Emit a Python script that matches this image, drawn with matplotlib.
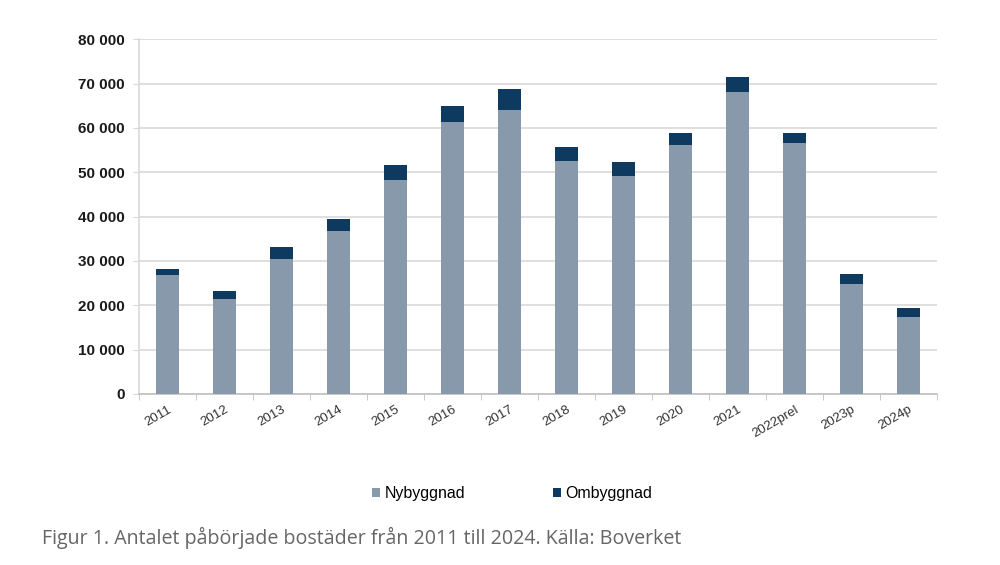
import numpy as np
import matplotlib.pyplot as plt
from matplotlib.ticker import FuncFormatter, FixedLocator

# data
years = ["2011", "2012", "2013", "2014", "2015", "2016", "2017", "2018", "2019",
         "2020", "2021", "2022prel", "2023p", "2024p"]
nybyggnad = [26760, 21350, 30370, 36750, 48180, 61260, 64040, 52610, 49150,
             56140, 68160, 56670, 24800, 17440]
totalt = [28120, 23300, 33210, 39460, 51560, 65000, 68700, 55620, 52380,
          58920, 71400, 58920, 26990, 19320]
ombyggnad = [t - n for t, n in zip(totalt, nybyggnad)]

col_ny = "#8799ab"
col_om = "#0d3a5e"

plt.rcParams['font.family'] = ['Liberation Sans', 'DejaVu Sans']

fig = plt.figure(figsize=(10, 5.65), dpi=100)
ax = fig.add_axes([0.139, 0.3027, 0.798, 0.6277])

x = np.arange(len(years))
ax.bar(x, nybyggnad, width=0.39, color=col_ny, label="Nybyggnad", zorder=3)
ax.bar(x, ombyggnad, width=0.39, bottom=nybyggnad, color=col_om,
       label="Ombyggnad", zorder=3)

ax.set_xlim(-0.5, len(years) - 0.5)
ax.set_ylim(0, 80000)
ax.set_yticks(np.arange(0, 80001, 10000))
ax.yaxis.set_major_formatter(FuncFormatter(lambda v, p: f"{int(v):,}".replace(",", " ")))
ax.grid(axis="y", color="#d9d9d9", linewidth=1.2, zorder=0)

for s in ["top", "right"]:
    ax.spines[s].set_visible(False)
ax.spines["left"].set_color("#d9d9d9")
ax.spines["bottom"].set_color("#bfbfbf")
ax.spines["left"].set_linewidth(1.2)
ax.spines["bottom"].set_linewidth(1.2)

ax.tick_params(axis="y", length=4, color="#d9d9d9", labelsize=11,
               labelcolor="#1a1a1a", pad=6)
for t in ax.get_yticklabels():
    t.set_fontweight("bold")

# category ticks between bars, labels at bar centres
ax.set_xticks(x)
ax.set_xticklabels(years, rotation=30, ha="right", va="top",
                   rotation_mode="anchor", fontsize=9.5, color="#333333")
ax.tick_params(axis="x", length=0, pad=7)
ax.xaxis.set_minor_locator(FixedLocator(np.arange(-0.5, len(years), 1.0)))
ax.tick_params(axis="x", which="minor", length=4, color="#bfbfbf")

fig.legend(loc="center", bbox_to_anchor=(0.512, 0.126), ncol=2, frameon=False,
           fontsize=11.5, handlelength=0.5, handleheight=0.5, handletextpad=0.3,
           columnspacing=5.5)

fig.text(0.042, 0.047, "Figur 1. Antalet påbörjade bostäder från 2011 till 2024. Källa: Boverket",
         family="Open Sans", fontsize=14.1, color="#666666", va="center")

fig.savefig("out.png", dpi=100)
